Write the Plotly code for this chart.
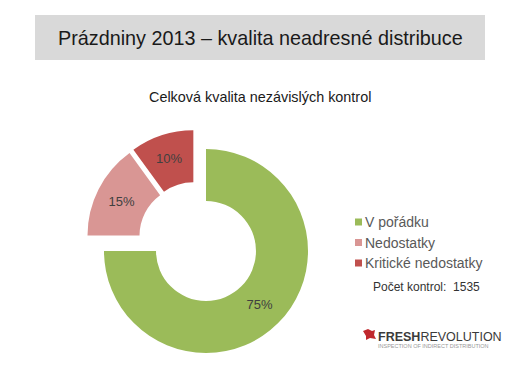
import plotly.graph_objects as go

categories = ["V pořádku", "Nedostatky", "Kritické nedostatky"]
values = [75, 15, 10]
colors = ["#9BBB59", "#D99694", "#C0504D"]
exploded = [False, True, True]
total_checks = 1535

W, H = 520, 390
def px(x): return x / W
def py(y): return 1 - y / H

CX, CY, R = 206, 251, 102
SHIFT_X, SHIFT_Y = -10.6, -12.4
SEP_PULL = 0.065
TRANSPARENT = "rgba(0,0,0,0)"

def pie_trace(show_mask, cx, cy, pull):
    half = R * (1 + pull)
    return go.Pie(
        labels=categories, values=values, sort=False, direction="clockwise", rotation=0,
        hole=0.49, pull=[pull if m else 0 for m in show_mask],
        marker=dict(colors=[c if m else TRANSPARENT for c, m in zip(colors, show_mask)],
                    line=dict(width=0)),
        texttemplate=["%{value}%" if m else "" for m in show_mask],
        textposition="inside", insidetextorientation="horizontal",
        textfont=dict(family="Liberation Sans, Arial", size=13, color="#404040"),
        domain=dict(x=[px(cx - half), px(cx + half)], y=[py(cy + half), py(cy - half)]),
        hoverinfo="label+percent", showlegend=False,
    )

fig = go.Figure()
fig.add_trace(pie_trace([not e for e in exploded], CX, CY, 0))
fig.add_trace(pie_trace(exploded, CX + SHIFT_X, CY + SHIFT_Y, SEP_PULL))

shapes = [
    dict(type="rect", xref="paper", yref="paper", x0=px(35), x1=px(485), y0=py(60), y1=py(15),
         fillcolor="#D9D9D9", line=dict(width=0), layer="below"),
    dict(type="path", xref="paper", yref="paper",
         path=f"M {px(363)} {py(331)} L {px(368)} {py(329)} L {px(372)} {py(331)} L {px(375)} {py(330)} L {px(374)} {py(335)} L {px(376)} {py(339)} L {px(370)} {py(338)} L {px(366)} {py(340)} L {px(366)} {py(336)} Z",
         fillcolor="#C0282D", line=dict(width=0)),
]

annotations = [
    dict(text="Prázdniny 2013 – kvalita neadresné distribuce", x=0.5, y=py(37.5), xref="paper", yref="paper",
         showarrow=False, font=dict(family="Liberation Sans, Arial", size=19.8, color="#1a1a1a"),
         xanchor="center", yanchor="middle"),
    dict(text="Celková kvalita nezávislých kontrol", x=0.5, y=py(97), xref="paper", yref="paper",
         showarrow=False, font=dict(family="Liberation Sans, Arial", size=14.4, color="#1a1a1a"),
         xanchor="center", yanchor="middle"),
    dict(text=f"Počet kontrol:  {total_checks}", x=px(371), y=py(287), xref="paper", yref="paper",
         showarrow=False, font=dict(family="Liberation Sans, Arial", size=12, color="#333333"),
         xanchor="left", yanchor="middle"),
    dict(text="<b>FRESH</b>REVOLUTION", x=px(376), y=py(337), xref="paper", yref="paper",
         showarrow=False, font=dict(family="Liberation Sans, Arial", size=12.5, color="#3a3a3a"),
         xanchor="left", yanchor="middle"),
    dict(text="INSPECTION OF INDIRECT DISTRIBUTION", x=px(376), y=py(346), xref="paper", yref="paper",
         showarrow=False, font=dict(family="Liberation Sans, Arial", size=5.5, color="#999999"),
         xanchor="left", yanchor="middle"),
]

# custom legend
legend_x, legend_y0, legend_dy = 355, 222, 20.5
for i, (cat, col) in enumerate(zip(categories, colors)):
    yc = legend_y0 + i * legend_dy
    shapes.append(dict(type="rect", xref="paper", yref="paper",
                       x0=px(legend_x), x1=px(legend_x + 7), y0=py(yc + 3.5), y1=py(yc - 3.5),
                       fillcolor=col, line=dict(width=0)))
    annotations.append(dict(text=cat, x=px(legend_x + 8), y=py(yc), xref="paper", yref="paper",
                            showarrow=False, xanchor="left", yanchor="middle",
                            font=dict(family="Liberation Sans, Arial", size=14, color="#595959")))

fig.update_layout(
    width=W, height=H, margin=dict(l=0, r=0, t=0, b=0),
    paper_bgcolor="white", plot_bgcolor="white",
    shapes=shapes, annotations=annotations,
    showlegend=False,
)

fig.write_html("out.html", config={"displayModeBar": False},
               post_script="document.body.style.margin='0';")
